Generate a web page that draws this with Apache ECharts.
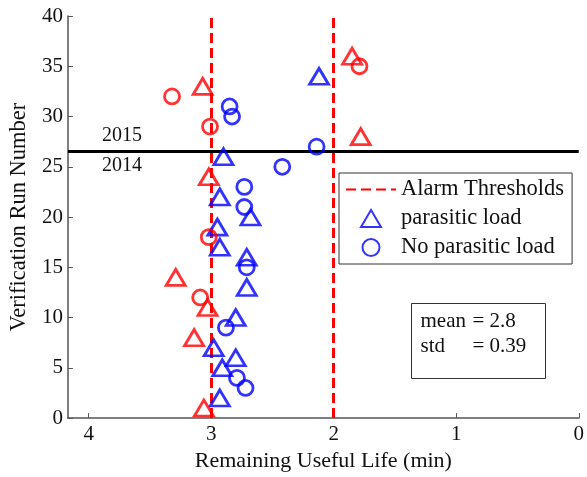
<!DOCTYPE html>
<html>
<head>
<meta charset="utf-8">
<script src="https://cdn.jsdelivr.net/npm/echarts@6/dist/echarts.min.js"></script>
<style>
  html, body { margin: 0; padding: 0; background: #fff; }
  #chart { width: 587px; height: 477px; }
</style>
</head>
<body>
<div id="chart"></div>
<script>
const FONT = '"Liberation Serif", "Times New Roman", serif';

// Remaining useful life (min) per verification run
const blueTriRuns = [2, 5, 6, 7, 10, 13, 16, 17, 19, 20, 22, 26, 34];
const blueTriRUL  = [2.93, 2.91, 2.80, 2.98, 2.80, 2.71, 2.71, 2.93, 2.95, 2.68, 2.93, 2.90, 2.12];

const blueCircRuns = [3, 4, 9, 15, 21, 23, 25, 27, 30, 31];
const blueCircRUL  = [2.72, 2.79, 2.88, 2.71, 2.73, 2.73, 2.42, 2.14, 2.83, 2.85];

const redTriRuns = [1, 8, 11, 14, 24, 28, 33, 36];
const redTriRUL  = [3.06, 3.14, 3.03, 3.29, 3.02, 1.78, 3.07, 1.85];

const redCircRuns = [12, 18, 29, 32, 35];
const redCircRUL  = [3.09, 3.02, 3.01, 3.32, 1.79];

const alarmThresholds = [3, 2];
const yearBoundary = 26.5;
const meanRUL = 2.8;
const stdRUL = 0.39;

const xTicks = [0, 1, 2, 3, 4];
const xMax = 4.17;
const yMin = 0, yMax = 40, yStep = 5;

const RED = '#ff0000';
const BLUE = '#0000ff';

// outline triangle used for the legend key (kept at its own aspect ratio)
const TRIANGLE_ICON = 'path://M10,0L20,17L0,17Z';

const pairs = (xs, ys) => xs.map((x, i) => [x, ys[i]]);

function markerSeries(name, symbol, size, color, rul, runs) {
  return {
    name: name,
    type: 'scatter',
    symbol: symbol,
    symbolSize: size,
    data: pairs(rul, runs),
    itemStyle: { color: 'rgba(0,0,0,0)', borderColor: color, borderWidth: 2.8 },
    emphasis: { disabled: true },
    z: 5
  };
}

const chart = echarts.init(document.getElementById('chart'), null, { renderer: 'canvas' });

chart.setOption({
  animation: false,
  backgroundColor: '#fff',
  textStyle: { fontFamily: FONT },
  grid: { left: 66, right: 5, top: 16, bottom: 55, containLabel: false },
  xAxis: {
    type: 'value',
    inverse: true,
    min: 0,
    max: xMax,
    name: 'Remaining Useful Life (min)',
    nameLocation: 'middle',
    nameGap: 29,
    nameTextStyle: { fontFamily: FONT, fontSize: 22, color: '#111' },
    axisLine: { onZero: false, lineStyle: { color: '#555', width: 1.5 } },
    axisTick: { inside: true, length: 5, lineStyle: { color: '#555' }, customValues: xTicks },
    axisLabel: { fontFamily: FONT, fontSize: 21, color: '#111', margin: 6, customValues: xTicks },
    splitLine: { show: false }
  },
  yAxis: {
    type: 'value',
    min: yMin,
    max: yMax,
    interval: yStep,
    name: 'Verification Run Number',
    nameLocation: 'middle',
    nameGap: 35,
    nameTextStyle: { fontFamily: FONT, fontSize: 22.5, color: '#111' },
    axisLine: { show: true, onZero: false, lineStyle: { color: '#555', width: 1.5 } },
    axisTick: { show: true, inside: true, length: 5, lineStyle: { color: '#555' } },
    axisLabel: { fontFamily: FONT, fontSize: 21, color: '#111', margin: 5 },
    splitLine: { show: false }
  },
  legend: {
    data: [
      { name: 'Alarm Thresholds' },
      { name: 'parasitic load', icon: TRIANGLE_ICON },
      { name: 'No parasitic load' }
    ],
    orient: 'vertical',
    left: 339,
    top: 173,
    padding: [5, 8, 5, 6],
    itemGap: 6,
    itemWidth: 50,
    itemHeight: 17,
    symbolKeepAspect: true,
    selectedMode: false,
    backgroundColor: '#fff',
    borderColor: '#333',
    borderWidth: 1,
    textStyle: { fontFamily: FONT, fontSize: 22.5, color: '#111' }
  },
  series: [
    {
      name: 'Alarm Thresholds',
      type: 'line',
      data: [],
      symbol: 'circle',
      symbolSize: 0,
      lineStyle: { color: RED, width: 3, type: [10, 5] },
      itemStyle: { color: 'rgba(0,0,0,0)', borderWidth: 0 },
      markLine: {
        silent: true,
        symbol: ['none', 'none'],
        label: { show: false },
        lineStyle: { color: RED, width: 3, type: [10, 5] },
        data: alarmThresholds.map(v => ({ xAxis: v }))
      },
      z: 3
    },
    {
      name: 'year boundary',
      type: 'line',
      data: [],
      symbol: 'none',
      markLine: {
        silent: true,
        symbol: ['none', 'none'],
        label: { show: false },
        lineStyle: { color: '#000', width: 3, type: 'solid' },
        data: [{ yAxis: yearBoundary }]
      },
      z: 4
    },
    markerSeries('parasitic load', 'triangle', [19, 16], BLUE, blueTriRUL, blueTriRuns),
    markerSeries('No parasitic load', 'circle', 15, BLUE, blueCircRUL, blueCircRuns),
    markerSeries('parasitic load, flagged', 'triangle', [19, 16], RED, redTriRUL, redTriRuns),
    markerSeries('No parasitic load, flagged', 'circle', 15, RED, redCircRUL, redCircRuns)
  ],
  graphic: [
    {
      type: 'text', left: 102, top: 126, z: 10,
      style: { text: '2015', font: '20px ' + FONT, fill: '#111' }
    },
    {
      type: 'text', left: 102, top: 156, z: 10,
      style: { text: '2014', font: '20px ' + FONT, fill: '#111' }
    },
    {
      type: 'group', left: 411, top: 303, z: 10,
      children: [
        {
          type: 'rect',
          shape: { x: 0, y: 0, width: 134, height: 75 },
          style: { fill: '#fff', stroke: '#333', lineWidth: 1 }
        },
        { type: 'text', x: 9, y: 7, style: { text: 'mean', font: '21px ' + FONT, fill: '#111' } },
        { type: 'text', x: 61, y: 7, style: { text: '= ' + meanRUL.toFixed(1), font: '21px ' + FONT, fill: '#111' } },
        { type: 'text', x: 9, y: 32, style: { text: 'std', font: '21px ' + FONT, fill: '#111' } },
        { type: 'text', x: 61, y: 32, style: { text: '= ' + stdRUL.toFixed(2), font: '21px ' + FONT, fill: '#111' } }
      ]
    }
  ]
});
</script>
</body>
</html>
